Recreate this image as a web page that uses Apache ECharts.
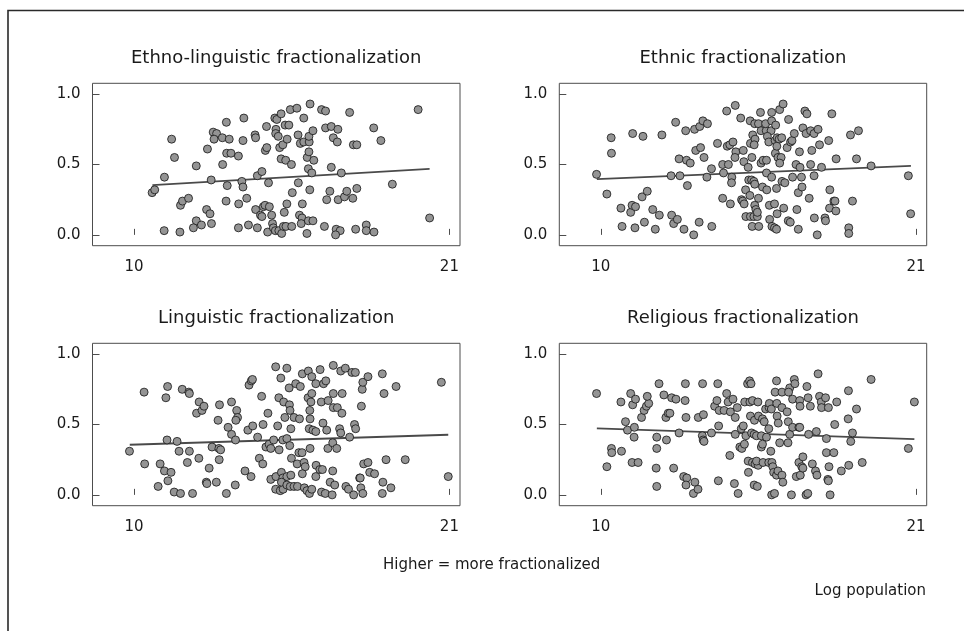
<!DOCTYPE html>
<html><head><meta charset="utf-8">
<script src="https://cdn.jsdelivr.net/npm/echarts@6/dist/echarts.min.js"></script>
<style>html,body{margin:0;padding:0;background:#fff}#c{width:964px;height:631px}</style>
</head><body><div id="c"></div>
<script>
const panelTitles = ['Ethno-linguistic fractionalization','Ethnic fractionalization','Linguistic fractionalization','Religious fractionalization'];
const xTicks = [10, 21];
const yTicks = [0, 0.5, 1];
const yTickLabels = ['0.0', '0.5', '1.0'];
const noteText = 'Higher = more fractionalized';
const xAxisTitle = 'Log population';

const ethnoLingPoints = [[10.63,0.30],[10.72,0.32],[11.06,0.41],[11.31,0.68],[11.41,0.55],[11.05,0.03],[11.60,0.02],[11.62,0.21],[11.69,0.24],[11.90,0.26],[12.17,0.49],[12.17,0.10],[12.07,0.05],[12.35,0.07],[12.53,0.18],[12.65,0.15],[12.56,0.61],[12.69,0.39],[12.70,0.08],[12.76,0.73],[12.88,0.72],[12.79,0.68],[13.08,0.69],[13.32,0.68],[13.09,0.50],[13.22,0.80],[13.23,0.58],[13.38,0.58],[13.25,0.35],[13.21,0.24],[13.64,0.56],[13.65,0.22],[13.64,0.05],[13.80,0.67],[13.83,0.83],[13.76,0.38],[13.80,0.34],[13.93,0.26],[13.99,0.07],[14.22,0.71],[14.24,0.69],[14.24,0.18],[14.30,0.05],[14.41,0.14],[14.46,0.13],[14.51,0.20],[14.57,0.21],[14.72,0.20],[14.80,0.14],[14.30,0.42],[14.46,0.45],[14.58,0.60],[14.63,0.62],[14.69,0.37],[14.62,0.77],[14.66,0.02],[14.83,0.08],[14.86,0.05],[14.93,0.03],[15.05,0.03],[15.15,0.01],[15.21,0.06],[15.30,0.06],[15.50,0.06],[14.91,0.83],[14.98,0.82],[15.13,0.86],[14.95,0.75],[14.94,0.72],[15.03,0.70],[15.08,0.62],[15.19,0.64],[15.13,0.54],[15.29,0.53],[15.49,0.50],[15.27,0.78],[15.40,0.78],[15.34,0.68],[15.24,0.16],[15.33,0.22],[15.45,0.89],[15.68,0.90],[15.52,0.30],[15.73,0.37],[15.72,0.71],[15.80,0.65],[15.92,0.66],[16.11,0.66],[16.10,0.70],[16.24,0.74],[15.92,0.83],[15.77,0.14],[15.86,0.12],[15.83,0.08],[16.08,0.10],[16.24,0.10],[15.87,0.22],[16.03,0.01],[16.04,0.55],[16.10,0.59],[16.27,0.53],[16.08,0.47],[16.20,0.44],[16.13,0.32],[16.14,0.93],[16.54,0.89],[16.68,0.88],[16.68,0.76],[16.88,0.77],[17.11,0.75],[16.95,0.69],[17.09,0.66],[16.88,0.48],[16.83,0.31],[16.72,0.25],[16.64,0.06],[17.05,0.04],[17.19,0.03],[17.03,0.00],[17.12,0.25],[17.34,0.27],[17.42,0.31],[17.63,0.26],[17.77,0.33],[17.23,0.44],[17.52,0.87],[17.65,0.64],[17.77,0.64],[17.73,0.04],[18.10,0.07],[18.10,0.03],[18.37,0.02],[18.36,0.76],[18.61,0.67],[19.01,0.36],[19.91,0.89],[20.31,0.12]];

const ethnicPoints = [[9.85,0.43],[10.21,0.29],[10.36,0.69],[10.37,0.58],[10.70,0.19],[10.74,0.06],[11.04,0.16],[11.09,0.21],[11.21,0.20],[11.11,0.72],[11.19,0.05],[11.44,0.27],[11.62,0.31],[11.47,0.70],[11.52,0.09],[11.81,0.18],[11.90,0.04],[12.04,0.14],[12.13,0.71],[12.45,0.42],[12.47,0.14],[12.54,0.08],[12.67,0.11],[12.61,0.80],[12.73,0.54],[12.76,0.42],[12.90,0.04],[12.96,0.74],[12.99,0.53],[13.12,0.51],[13.02,0.35],[13.24,0.00],[13.27,0.75],[13.45,0.77],[13.56,0.81],[13.72,0.79],[13.31,0.60],[13.48,0.62],[13.43,0.09],[13.60,0.55],[13.70,0.41],[13.86,0.47],[13.87,0.06],[14.07,0.65],[14.25,0.50],[14.45,0.50],[14.28,0.44],[14.25,0.26],[14.39,0.88],[14.41,0.63],[14.50,0.64],[14.61,0.66],[14.71,0.59],[14.52,0.22],[14.57,0.41],[14.56,0.37],[14.68,0.55],[14.69,0.92],[14.88,0.83],[14.91,0.25],[14.95,0.24],[15.00,0.22],[14.97,0.60],[14.99,0.52],[15.14,0.48],[15.06,0.13],[15.22,0.13],[15.34,0.13],[15.46,0.13],[15.05,0.32],[15.20,0.28],[15.16,0.39],[15.26,0.39],[15.34,0.38],[15.37,0.36],[15.21,0.81],[15.37,0.79],[15.50,0.79],[15.22,0.65],[15.30,0.71],[15.38,0.68],[15.35,0.64],[15.27,0.55],[15.28,0.06],[15.51,0.06],[15.37,0.21],[15.41,0.18],[15.46,0.16],[15.50,0.26],[15.57,0.87],[15.59,0.74],[15.77,0.74],[15.94,0.74],[15.64,0.34],[15.79,0.32],[15.59,0.51],[15.66,0.53],[15.78,0.53],[15.75,0.79],[15.96,0.81],[16.10,0.78],[15.81,0.70],[15.86,0.66],[15.96,0.87],[16.24,0.89],[15.78,0.44],[15.96,0.41],[15.88,0.21],[16.06,0.22],[15.89,0.11],[15.97,0.06],[16.06,0.05],[16.13,0.04],[16.13,0.33],[16.15,0.15],[16.38,0.19],[16.08,0.67],[16.15,0.69],[16.22,0.68],[16.31,0.69],[16.09,0.58],[16.18,0.55],[16.14,0.63],[16.29,0.55],[16.24,0.51],[16.36,0.93],[16.32,0.38],[16.42,0.37],[16.50,0.62],[16.62,0.66],[16.67,0.67],[16.55,0.82],[16.54,0.10],[16.61,0.09],[16.69,0.41],[16.75,0.72],[16.81,0.50],[16.95,0.48],[16.84,0.18],[16.89,0.30],[17.02,0.34],[16.89,0.04],[16.93,0.59],[17.00,0.41],[17.05,0.76],[17.16,0.72],[17.12,0.88],[17.19,0.86],[17.27,0.26],[17.32,0.74],[17.44,0.72],[17.58,0.75],[17.36,0.60],[17.32,0.50],[17.44,0.42],[17.45,0.12],[17.55,0.00],[17.63,0.64],[17.70,0.48],[17.82,0.12],[17.84,0.10],[17.95,0.67],[17.99,0.32],[17.98,0.19],[18.20,0.17],[18.13,0.24],[18.17,0.24],[18.06,0.86],[18.21,0.54],[18.65,0.05],[18.65,0.01],[18.71,0.71],[18.99,0.74],[18.78,0.24],[18.92,0.54],[19.43,0.49],[20.73,0.42],[20.81,0.15]];

const linguisticPoints = [[9.84,0.31],[10.35,0.73],[10.37,0.22],[10.84,0.06],[10.91,0.22],[11.06,0.17],[11.18,0.10],[11.29,0.16],[11.11,0.69],[11.17,0.77],[11.15,0.39],[11.40,0.02],[11.62,0.01],[11.50,0.38],[11.57,0.31],[11.68,0.75],[11.91,0.73],[11.93,0.72],[11.93,0.31],[11.86,0.23],[12.04,0.01],[12.18,0.58],[12.27,0.66],[12.37,0.60],[12.44,0.63],[12.26,0.26],[12.52,0.09],[12.54,0.08],[12.62,0.19],[12.72,0.34],[12.96,0.33],[13.02,0.32],[12.87,0.09],[12.93,0.53],[12.98,0.64],[12.97,0.25],[13.22,0.01],[13.28,0.48],[13.40,0.43],[13.54,0.39],[13.40,0.66],[13.53,0.07],[13.58,0.60],[13.61,0.55],[13.55,0.53],[13.87,0.17],[13.97,0.46],[14.01,0.78],[14.09,0.81],[14.13,0.82],[14.08,0.13],[14.14,0.49],[14.31,0.41],[14.37,0.26],[14.49,0.22],[14.45,0.70],[14.50,0.50],[14.60,0.34],[14.71,0.36],[14.77,0.33],[14.67,0.58],[14.87,0.39],[14.77,0.11],[14.95,0.13],[14.94,0.91],[14.94,0.04],[15.10,0.03],[15.20,0.04],[15.01,0.49],[15.05,0.69],[15.22,0.66],[15.12,0.83],[15.06,0.32],[15.19,0.39],[15.33,0.40],[15.14,0.16],[15.19,0.12],[15.33,0.13],[15.47,0.14],[15.14,0.09],[15.33,0.07],[15.45,0.06],[15.58,0.06],[15.70,0.06],[15.26,0.55],[15.33,0.90],[15.41,0.76],[15.64,0.79],[15.80,0.77],[15.42,0.64],[15.44,0.60],[15.43,0.35],[15.47,0.47],[15.49,0.26],[15.58,0.55],[15.77,0.54],[15.69,0.22],[15.93,0.23],[15.97,0.20],[15.75,0.30],[15.86,0.30],[15.87,0.86],[15.87,0.15],[15.94,0.05],[16.03,0.03],[16.12,0.01],[16.20,0.04],[16.08,0.88],[16.20,0.84],[16.07,0.69],[16.20,0.72],[16.14,0.54],[16.14,0.33],[16.17,0.66],[16.13,0.60],[16.11,0.47],[16.24,0.46],[16.34,0.45],[16.34,0.79],[16.35,0.21],[16.48,0.18],[16.57,0.18],[16.34,0.13],[16.49,0.89],[16.53,0.66],[16.77,0.67],[16.95,0.72],[17.26,0.72],[16.54,0.02],[16.67,0.01],[16.91,0.00],[16.59,0.51],[16.61,0.79],[16.69,0.81],[16.72,0.46],[16.76,0.33],[16.84,0.09],[17.00,0.07],[16.93,0.17],[16.95,0.92],[16.95,0.62],[17.09,0.62],[16.93,0.37],[17.07,0.33],[17.21,0.88],[17.37,0.90],[17.17,0.47],[17.21,0.44],[17.25,0.58],[17.39,0.06],[17.48,0.04],[17.52,0.41],[17.60,0.87],[17.72,0.87],[17.69,0.50],[17.73,0.47],[17.66,0.00],[17.87,0.12],[17.89,0.12],[17.91,0.05],[17.98,0.01],[17.93,0.63],[17.96,0.75],[17.98,0.80],[18.01,0.22],[18.16,0.23],[18.16,0.84],[18.22,0.16],[18.39,0.15],[18.66,0.86],[18.72,0.72],[18.68,0.09],[18.66,0.01],[18.79,0.25],[18.96,0.05],[19.14,0.77],[19.46,0.25],[20.72,0.80],[20.96,0.13]];

const religiousPoints = [[9.85,0.72],[10.21,0.20],[10.37,0.33],[10.38,0.30],[10.70,0.66],[10.72,0.31],[10.86,0.52],[10.93,0.46],[11.04,0.72],[11.11,0.64],[11.21,0.68],[11.17,0.48],[11.16,0.41],[11.09,0.23],[11.30,0.23],[11.42,0.55],[11.51,0.60],[11.59,0.63],[11.67,0.65],[11.62,0.70],[11.93,0.19],[11.95,0.41],[11.95,0.33],[11.95,0.06],[12.03,0.79],[12.20,0.71],[12.27,0.55],[12.35,0.58],[12.41,0.58],[12.29,0.39],[12.47,0.69],[12.62,0.68],[12.54,0.19],[12.73,0.44],[12.89,0.13],[13.00,0.12],[12.97,0.07],[12.95,0.79],[12.94,0.67],[12.97,0.55],[13.23,0.01],[13.28,0.09],[13.39,0.04],[13.40,0.55],[13.58,0.57],[13.55,0.79],[13.54,0.42],[13.57,0.39],[13.60,0.38],[13.86,0.44],[13.97,0.63],[14.05,0.67],[14.13,0.60],[14.08,0.79],[14.11,0.49],[14.10,0.10],[14.30,0.60],[14.39,0.72],[14.44,0.66],[14.52,0.59],[14.61,0.68],[14.69,0.55],[14.76,0.62],[14.50,0.28],[14.69,0.43],[14.66,0.08],[14.79,0.01],[14.85,0.34],[14.92,0.33],[15.01,0.36],[14.90,0.47],[14.97,0.49],[15.02,0.66],[15.20,0.66],[15.29,0.67],[15.48,0.66],[15.12,0.79],[15.19,0.81],[15.24,0.79],[15.15,0.16],[15.14,0.24],[15.29,0.23],[15.38,0.22],[15.49,0.21],[15.43,0.24],[15.06,0.42],[15.26,0.44],[15.35,0.43],[15.43,0.42],[15.60,0.42],[15.78,0.41],[15.22,0.56],[15.36,0.53],[15.50,0.56],[15.64,0.54],[15.35,0.07],[15.46,0.06],[15.60,0.34],[15.64,0.36],[15.66,0.23],[15.86,0.23],[15.97,0.23],[15.70,0.52],[15.75,0.61],[15.87,0.62],[15.86,0.47],[15.88,0.65],[15.95,0.61],[15.93,0.31],[15.96,0.00],[16.06,0.01],[16.00,0.20],[16.03,0.16],[16.13,0.14],[16.18,0.17],[16.32,0.14],[16.08,0.73],[16.14,0.65],[16.13,0.81],[16.15,0.56],[16.19,0.51],[16.24,0.37],[16.32,0.73],[16.59,0.76],[16.55,0.73],[16.32,0.62],[16.50,0.59],[16.35,0.09],[16.53,0.37],[16.54,0.52],[16.59,0.43],[16.65,0.00],[16.69,0.48],[16.91,0.48],[16.94,0.48],[16.69,0.68],[16.94,0.67],[16.75,0.82],[16.77,0.79],[16.82,0.13],[16.96,0.14],[16.95,0.63],[16.91,0.23],[17.05,0.27],[17.01,0.20],[17.05,0.19],[17.16,0.00],[17.22,0.01],[17.19,0.77],[17.23,0.69],[17.25,0.43],[17.31,0.63],[17.38,0.22],[17.49,0.17],[17.54,0.14],[17.52,0.45],[17.58,0.86],[17.63,0.70],[17.69,0.66],[17.70,0.62],[17.84,0.69],[17.94,0.62],[18.23,0.66],[17.87,0.40],[17.87,0.30],[18.13,0.30],[17.92,0.11],[17.94,0.10],[17.96,0.20],[18.00,0.00],[18.16,0.50],[18.39,0.17],[18.64,0.74],[18.65,0.21],[18.63,0.54],[18.72,0.38],[18.78,0.44],[18.92,0.61],[19.12,0.23],[19.43,0.82],[20.73,0.33],[20.94,0.66]];

const ethnoLingFit = [[10.64,0.353],[20.31,0.469]];
const ethnicFit = [[9.86,0.396],[20.82,0.490]];
const linguisticFit = [[9.85,0.356],[20.96,0.427]];
const religiousFit = [[9.86,0.472],[20.94,0.396]];

const allPoints = [ethnoLingPoints, ethnicPoints, linguisticPoints, religiousPoints];
const allFits = [ethnoLingFit, ethnicFit, linguisticFit, religiousFit];

const FONT = 'DejaVu Sans';
const boxes = [
  {left: 92.5, top: 83.3, width: 367.5, height: 162.4},
  {left: 559.3, top: 83.3, width: 367.4, height: 162.4},
  {left: 92.5, top: 343.3, width: 367.5, height: 162.4},
  {left: 559.3, top: 343.3, width: 367.4, height: 162.4}
];
const titleTops = [49, 49, 309, 309];

const chart = echarts.init(document.getElementById('c'), null, {renderer: 'canvas'});
const grid = [], xAxis = [], yAxis = [], series = [], title = [];
boxes.forEach((b, i) => {
  grid.push({left: b.left, top: b.top, width: b.width, height: b.height, show: true,
    borderColor: '#4d4d4d', borderWidth: 1, backgroundColor: 'transparent', containLabel: false});
  xAxis.push({gridIndex: i, type: 'value', min: 8.55, max: 21.37,
    axisLine: {show: false}, splitLine: {show: false},
    axisTick: {show: true, inside: true, length: 6, customValues: xTicks, lineStyle: {color: '#4d4d4d', width: 1}},
    axisLabel: {customValues: xTicks, margin: 14, fontFamily: FONT, fontSize: 15, color: '#1a1a1a'}});
  yAxis.push({gridIndex: i, type: 'value', min: -0.077, max: 1.077,
    axisLine: {show: false}, splitLine: {show: false},
    axisTick: {show: true, inside: true, length: 7, customValues: yTicks, lineStyle: {color: '#4d4d4d', width: 1}},
    axisLabel: {customValues: yTicks, margin: 12, fontFamily: FONT, fontSize: 15, color: '#1a1a1a',
      formatter: v => yTickLabels[yTicks.indexOf(v)] ?? String(v)}});
  title.push({text: panelTitles[i], left: b.left + b.width / 2, top: titleTops[i], textAlign: 'center', padding: 0,
    textStyle: {fontFamily: FONT, fontSize: 18, fontWeight: 'normal', color: '#1a1a1a'}});
  series.push({type: 'line', xAxisIndex: i, yAxisIndex: i, data: allFits[i], showSymbol: false, silent: true,
    lineStyle: {color: '#4a4a4a', width: 1.8}, z: 2});
  series.push({type: 'scatter', xAxisIndex: i, yAxisIndex: i, data: allPoints[i], symbol: 'circle', symbolSize: 8,
    itemStyle: {color: '#949494', borderColor: '#141414', borderWidth: 0.8, opacity: 1}, z: 3});
});

chart.setOption({
  animation: false,
  backgroundColor: '#ffffff',
  title, grid, xAxis, yAxis, series,
  graphic: [
    {type: 'rect', shape: {x: 8, y: 10.5, width: 1200, height: 1200}, style: {fill: 'none', stroke: '#2a2a2a', lineWidth: 1.6}, silent: true},
    {type: 'text', x: 383, y: 565, style: {text: noteText, font: '15px "DejaVu Sans"', fill: '#1a1a1a', textAlign: 'left', textVerticalAlign: 'middle'}},
    {type: 'text', x: 926, y: 591, style: {text: xAxisTitle, font: '15px "DejaVu Sans"', fill: '#1a1a1a', textAlign: 'right', textVerticalAlign: 'middle'}}
  ]
});
</script></body></html>
